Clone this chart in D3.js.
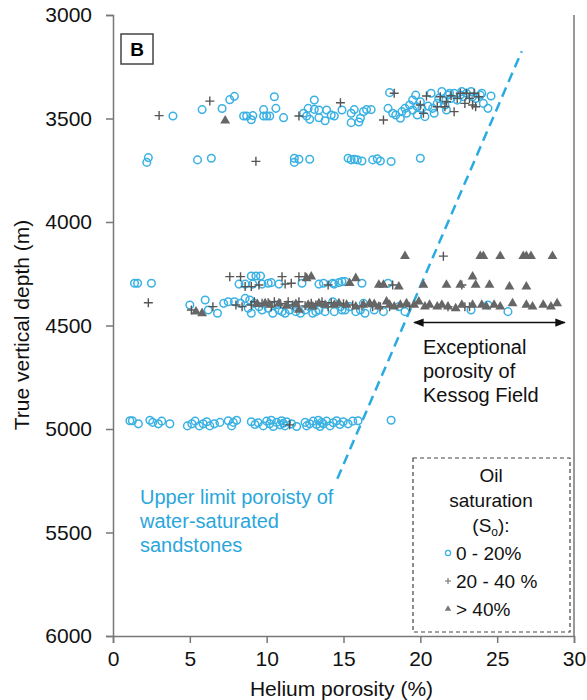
<!DOCTYPE html>
<html>
<head>
<meta charset="utf-8">
<script src="https://cdn.jsdelivr.net/npm/d3@7"></script>
<style>
  body { margin: 0; background: #fff; }
  text { font-family: "Liberation Sans", Arial, sans-serif; }
</style>
</head>
<body>
<svg id="chart"></svg>
<script>
// Oil saturation 0 - 20% : [helium porosity %, depth m]
const lowSat = [
  // ~3400-3520 m
  [3.9,3488],[5.8,3457],[7.1,3452],[7.6,3409],[7.9,3393],[8.5,3488],[8.7,3488],[9.0,3506],[9.1,3486],
  [9.8,3457],[9.8,3488],[10.0,3488],[10.2,3488],[10.6,3451],[10.5,3395],[11.1,3496],[12.4,3475],
  [12.6,3488],[12.8,3504],[12.7,3451],[13.1,3411],[13.1,3456],[13.4,3459],[13.4,3496],[13.8,3511],
  [13.9,3459],[14.2,3483],[14.4,3488],[14.9,3459],[15.5,3475],[15.5,3520],[15.7,3457],[16.0,3517],
  [16.1,3499],[16.3,3467],[16.5,3457],[16.8,3457],
  [18.0,3375],[17.9,3451],[18.2,3475],[18.4,3483],[18.7,3499],[18.8,3467],[19.0,3451],[19.1,3475],
  [19.3,3435],[19.5,3411],[19.7,3387],[19.5,3459],[19.8,3483],[19.8,3443],[20.0,3419],[20.1,3451],
  [20.3,3491],[20.5,3440],[20.7,3378],[20.8,3451],[20.9,3475],[21.1,3427],[21.2,3403],[21.4,3370],
  [21.5,3411],[21.6,3435],[21.7,3459],[21.8,3387],[21.9,3378],[22.0,3403],[22.2,3378],[22.4,3411],
  [22.6,3387],[22.7,3370],[22.8,3395],[23.0,3378],[23.3,3370],[23.4,3395],[23.6,3403],[23.9,3387],
  [24.0,3378],[24.1,3427],[24.4,3451],[24.6,3391],
  // ~3700 m
  [2.3,3689],[2.2,3712],[5.5,3700],[6.4,3692],[11.8,3692],[11.8,3712],[12.1,3697],[12.8,3697],
  [15.3,3692],[15.5,3700],[15.7,3697],[15.9,3700],[16.2,3705],[16.9,3700],[17.2,3695],[17.4,3705],
  [18.1,3708],[20.0,3692],
  // ~4260-4310 m
  [1.4,4296],[1.6,4296],[2.5,4296],[9.0,4261],[9.3,4261],[9.6,4261],[8.2,4300],[8.6,4300],[9.1,4300],
  [9.7,4300],[10.1,4296],[10.3,4293],[10.8,4300],[12.3,4296],[13.4,4300],[13.7,4296],[14.4,4300],
  [14.7,4293],[14.9,4288],[14.3,4296],[15.1,4288],[16.2,4296],[17.9,4296],
  // ~4370-4440 m
  [5.0,4401],[6.0,4377],[6.2,4425],[6.8,4441],[7.2,4393],[7.5,4385],[7.9,4385],[8.3,4393],[8.6,4369],
  [8.9,4377],[9.0,4441],[8.8,4417],[9.2,4393],[9.7,4425],[10.1,4417],[10.4,4441],[10.8,4425],
  [11.2,4441],[11.5,4425],[11.9,4433],[12.5,4425],[13.0,4441],[13.4,4425],[13.8,4433],[14.4,4433],
  [14.9,4425],[14.3,4385],[14.8,4409],[15.1,4425],[15.4,4409],[16.1,4425],[16.3,4393],[16.4,4441],
  [18.6,4409],[19.0,4433],[23.3,4425],[24.4,4401],[25.7,4433],
  [9.5,4409],[10.6,4401],[11.0,4433],[11.8,4409],[12.2,4441],[12.8,4409],[13.2,4433],[15.8,4433],
  [17.0,4425],[17.6,4433],
  // ~4960 m
  [1.1,4960],[1.26,4960],[1.65,4975],[2.4,4958],[2.58,4968],[2.95,4975],[3.17,4962],[3.7,4975],
  [4.84,4985],[5.13,4975],[5.34,4962],[5.62,4985],[5.87,4975],[6.1,4965],[6.3,4985],[6.6,4975],
  [6.96,4968],[7.5,4960],[7.72,4985],[7.83,4968],[8.05,4958],[9.0,4965],[9.24,4978],[9.45,4970],
  [9.78,4985],[10.0,4962],[10.2,4975],[10.3,4958],[10.43,4988],[10.65,4968],[10.87,4980],
  [10.97,4960],[11.08,4972],[11.19,4985],[11.3,4965],[11.62,4975],[11.95,4988],[12.5,4968],
  [12.6,4985],[12.8,4975],[13.03,4962],[13.25,4978],[13.36,4958],[13.47,4988],[13.58,4968],
  [13.68,4975],[13.9,4962],[14.12,4985],[14.33,4970],[14.55,4960],[14.77,4978],[14.98,4965],
  [15.3,4975],[15.6,4962],[15.95,4960],[18.1,4958]
];

// Oil saturation 20 - 40 %
const midSat = [
  [3.0,3486],[6.3,3416],[12.1,3488],[14.8,3424],[17.6,3507],[18.3,3378],[20.4,3391],[20.2,3475],
  [20.0,3435],[21.1,3443],[21.6,3443],[21.7,3419],[22.2,3467],[22.4,3403],[22.6,3378],[22.9,3427],
  [23.0,3378],[23.2,3403],[23.4,3435],[23.6,3443],[23.8,3395],[23.5,3378],[21.3,3395],[22.0,3390],
  [9.3,3707],
  [21.5,4165],
  [7.6,4264],[8.3,4264],[8.6,4312],[9.0,4312],[9.5,4304],[11.0,4264],[11.2,4300],[12.1,4264],
  [12.5,4264],[11.6,4296],[14.0,4304],[18.2,4304],[22.7,4304],
  [2.3,4390],[5.1,4425],[6.5,4409],[8.4,4409],[9.2,4385],[9.7,4393],[10.1,4390],[10.5,4385],
  [11.4,4385],[12.1,4385],[12.9,4393],[13.6,4385],[14.2,4390],[16.9,4409],[17.4,4409],[21.8,4409],
  [22.9,4409],[23.2,4409],[8.0,4401],[9.0,4401],[10.3,4409],[10.9,4395],[11.7,4401],[12.5,4405],
  [13.2,4401],[14.0,4409],[15.0,4395],[15.6,4401],[16.2,4405],[18.0,4409],[19.3,4409],
  [11.5,4980]
];

// Oil saturation > 40%
const highSat = [
  [7.3,3511],
  [19.0,4165],[23.9,4165],[24.1,4165],[25.2,4165],[26.7,4165],[26.9,4165],[27.2,4165],[28.6,4165],
  [12.9,4264],[12.6,4272],[15.4,4296],[15.8,4272],[17.3,4304],[17.6,4304],[18.6,4312],[20.2,4304],
  [21.7,4304],[22.6,4304],[23.4,4264],[23.6,4304],[24.5,4304],[25.8,4312],[26.9,4312],
  [5.4,4433],[5.8,4441],[9.9,4393],[12.1,4425],[13.4,4393],[14.7,4393],
  [9.4,4397],[10.2,4401],[10.8,4393],[11.3,4405],[11.9,4397],[12.7,4401],[13.0,4409],[13.8,4401],
  [14.4,4401],[15.2,4401],[15.8,4409],[16.7,4393],[17.3,4409],[17.8,4385],[18.0,4401],[18.3,4409],
  [18.7,4401],[19.1,4393],[19.6,4401],[19.9,4385],[20.3,4409],[20.6,4401],[21.1,4409],[21.4,4401],
  [21.8,4409],[22.3,4417],[22.7,4401],[23.4,4401],[24.0,4401],[24.3,4409],[24.8,4401],[25.2,4409],
  [26.0,4393],[26.9,4401],[27.3,4409],[28.0,4401],[28.5,4409],[28.9,4393],[16.3,4401],[17.0,4397]
];

// annotations
const limitLine = [[14.6, 5240], [26.6, 3175]];
const arrowSpan = [19.6, 29.4];
const arrowDepth = 4486;
const xTicks = [0, 5, 10, 15, 20, 25, 30];
const yTicks = [3000, 3500, 4000, 4500, 5000, 5500, 6000];
const legendItems = ['0 - 20%', '20 - 40 %', '> 40%'];

const width = 587, height = 700;
const margin = {top: 15, right: 13, bottom: 64, left: 113};

const svg = d3.select('#chart')
    .attr('width', width)
    .attr('height', height);

const x = d3.scaleLinear().domain([0, 30]).range([margin.left, width - margin.right]);
const y = d3.scaleLinear().domain([3000, 6000]).range([margin.top, height - margin.bottom]);

const axisColor = '#777';

// right edge of the plot area
svg.append('line')
    .attr('x1', x(30)).attr('x2', x(30))
    .attr('y1', y(3000)).attr('y2', y(6000))
    .attr('stroke', axisColor).attr('stroke-width', 1.5);

// axes
const xAxis = svg.append('g')
    .attr('transform', 'translate(0,' + y(6000) + ')')
    .call(d3.axisBottom(x).tickValues(xTicks).tickSize(7).tickPadding(8));
const yAxis = svg.append('g')
    .attr('transform', 'translate(' + x(0) + ',0)')
    .call(d3.axisLeft(y).tickValues(yTicks).tickSize(7).tickPadding(14).tickFormat(d3.format('d')));

[xAxis, yAxis].forEach(g => {
  g.selectAll('path, line').attr('stroke', axisColor).attr('stroke-width', 1.5);
  g.selectAll('text').attr('font-size', 21).attr('fill', '#111')
      .attr('font-family', '"Liberation Sans", Arial, sans-serif');
});

// axis titles
svg.append('text')
    .attr('x', (x(0) + x(30)) / 2 - 2).attr('y', 696)
    .attr('text-anchor', 'middle').attr('font-size', 21).attr('fill', '#111')
    .text('Helium porosity (%)');
svg.append('text')
    .attr('transform', 'translate(29,' + 325 + ') rotate(-90)')
    .attr('text-anchor', 'middle').attr('font-size', 21).attr('fill', '#111')
    .text('True vertical depth (m)');

// panel letter
svg.append('rect')
    .attr('x', 121).attr('y', 34).attr('width', 32).attr('height', 30)
    .attr('fill', '#fff').attr('stroke', '#444').attr('stroke-width', 1.5);
svg.append('text')
    .attr('x', 137).attr('y', 56).attr('text-anchor', 'middle')
    .attr('font-size', 19).attr('font-weight', 'bold').text('B');

const blue = '#3ab1e3';

// upper limit dashed line
svg.append('line')
    .attr('x1', x(limitLine[0][0])).attr('y1', y(limitLine[0][1]))
    .attr('x2', x(limitLine[1][0])).attr('y2', y(limitLine[1][1]))
    .attr('stroke', '#29abe2').attr('stroke-width', 2.5)
    .attr('stroke-dasharray', '10,6');

// markers
svg.append('g').selectAll('circle')
    .data(lowSat)
    .enter().append('circle')
    .attr('cx', d => x(d[0]))
    .attr('cy', d => y(d[1]))
    .attr('r', 3.8)
    .attr('fill', 'none')
    .attr('stroke', blue)
    .attr('stroke-width', 1.5);

svg.append('g').selectAll('path')
    .data(midSat)
    .enter().append('path')
    .attr('transform', d => 'translate(' + x(d[0]) + ',' + y(d[1]) + ')')
    .attr('d', 'M-4.5,0H4.5M0,-4.5V4.5')
    .attr('stroke', '#555')
    .attr('stroke-width', 1.4);

const tri = d3.symbol().type(d3.symbolTriangle).size(42);
svg.append('g').selectAll('path')
    .data(highSat)
    .enter().append('path')
    .attr('transform', d => 'translate(' + x(d[0]) + ',' + y(d[1]) + ')')
    .attr('d', tri)
    .attr('fill', '#666');

// double arrow
const defs = svg.append('defs');
defs.append('marker')
    .attr('id', 'ah').attr('viewBox', '0 0 10 10')
    .attr('refX', 9).attr('refY', 5)
    .attr('markerWidth', 7).attr('markerHeight', 7)
    .attr('orient', 'auto-start-reverse')
  .append('path').attr('d', 'M0,1L10,5L0,9Z').attr('fill', '#111');
svg.append('line')
    .attr('x1', x(arrowSpan[0])).attr('x2', x(arrowSpan[1]))
    .attr('y1', y(arrowDepth)).attr('y2', y(arrowDepth))
    .attr('stroke', '#111').attr('stroke-width', 1.5)
    .attr('marker-start', 'url(#ah)').attr('marker-end', 'url(#ah)');

// annotation texts
const kessog = svg.append('text').attr('font-size', 20).attr('fill', '#111');
['Exceptional', 'porosity of', 'Kessog Field'].forEach((t, i) => {
  kessog.append('tspan').attr('x', 423).attr('y', 354 + i * 24).text(t);
});

const limitText = svg.append('text').attr('font-size', 20).attr('fill', '#2aa6dc');
['Upper limit poroisty of', 'water-saturated', 'sandstones'].forEach((t, i) => {
  limitText.append('tspan').attr('x', 140).attr('y', 504 + i * 24).text(t);
});

// legend
svg.append('rect')
    .attr('x', 413).attr('y', 458).attr('width', 157).attr('height', 174)
    .attr('fill', '#fff').attr('stroke', '#444').attr('stroke-width', 1.2)
    .attr('stroke-dasharray', '4,3');

const lg = svg.append('g').attr('font-size', 19).attr('fill', '#111');
lg.append('text').attr('x', 491).attr('y', 482).attr('text-anchor', 'middle').text('Oil');
lg.append('text').attr('x', 491).attr('y', 507).attr('text-anchor', 'middle').text('saturation');
const so = lg.append('text').attr('x', 491).attr('y', 532).attr('text-anchor', 'middle');
so.append('tspan').text('(S');
so.append('tspan').attr('font-size', 12).attr('dy', 4).text('o');
so.append('tspan').attr('dy', -4).text('):');

legendItems.forEach((t, i) => {
  const cy = 553 + i * 28;
  if (i === 0) {
    lg.append('circle').attr('cx', 448).attr('cy', cy).attr('r', 2.6)
        .attr('fill', 'none').attr('stroke', blue).attr('stroke-width', 1.2);
  } else if (i === 1) {
    lg.append('path').attr('transform', 'translate(448,' + cy + ')')
        .attr('d', 'M-3,0H3M0,-3V3').attr('stroke', '#666').attr('stroke-width', 1);
  } else {
    lg.append('path').attr('transform', 'translate(448,' + cy + ')')
        .attr('d', d3.symbol().type(d3.symbolTriangle).size(18)).attr('fill', '#777');
  }
  lg.append('text').attr('x', 456).attr('y', cy + 7).text(t);
});
</script>
</body>
</html>
